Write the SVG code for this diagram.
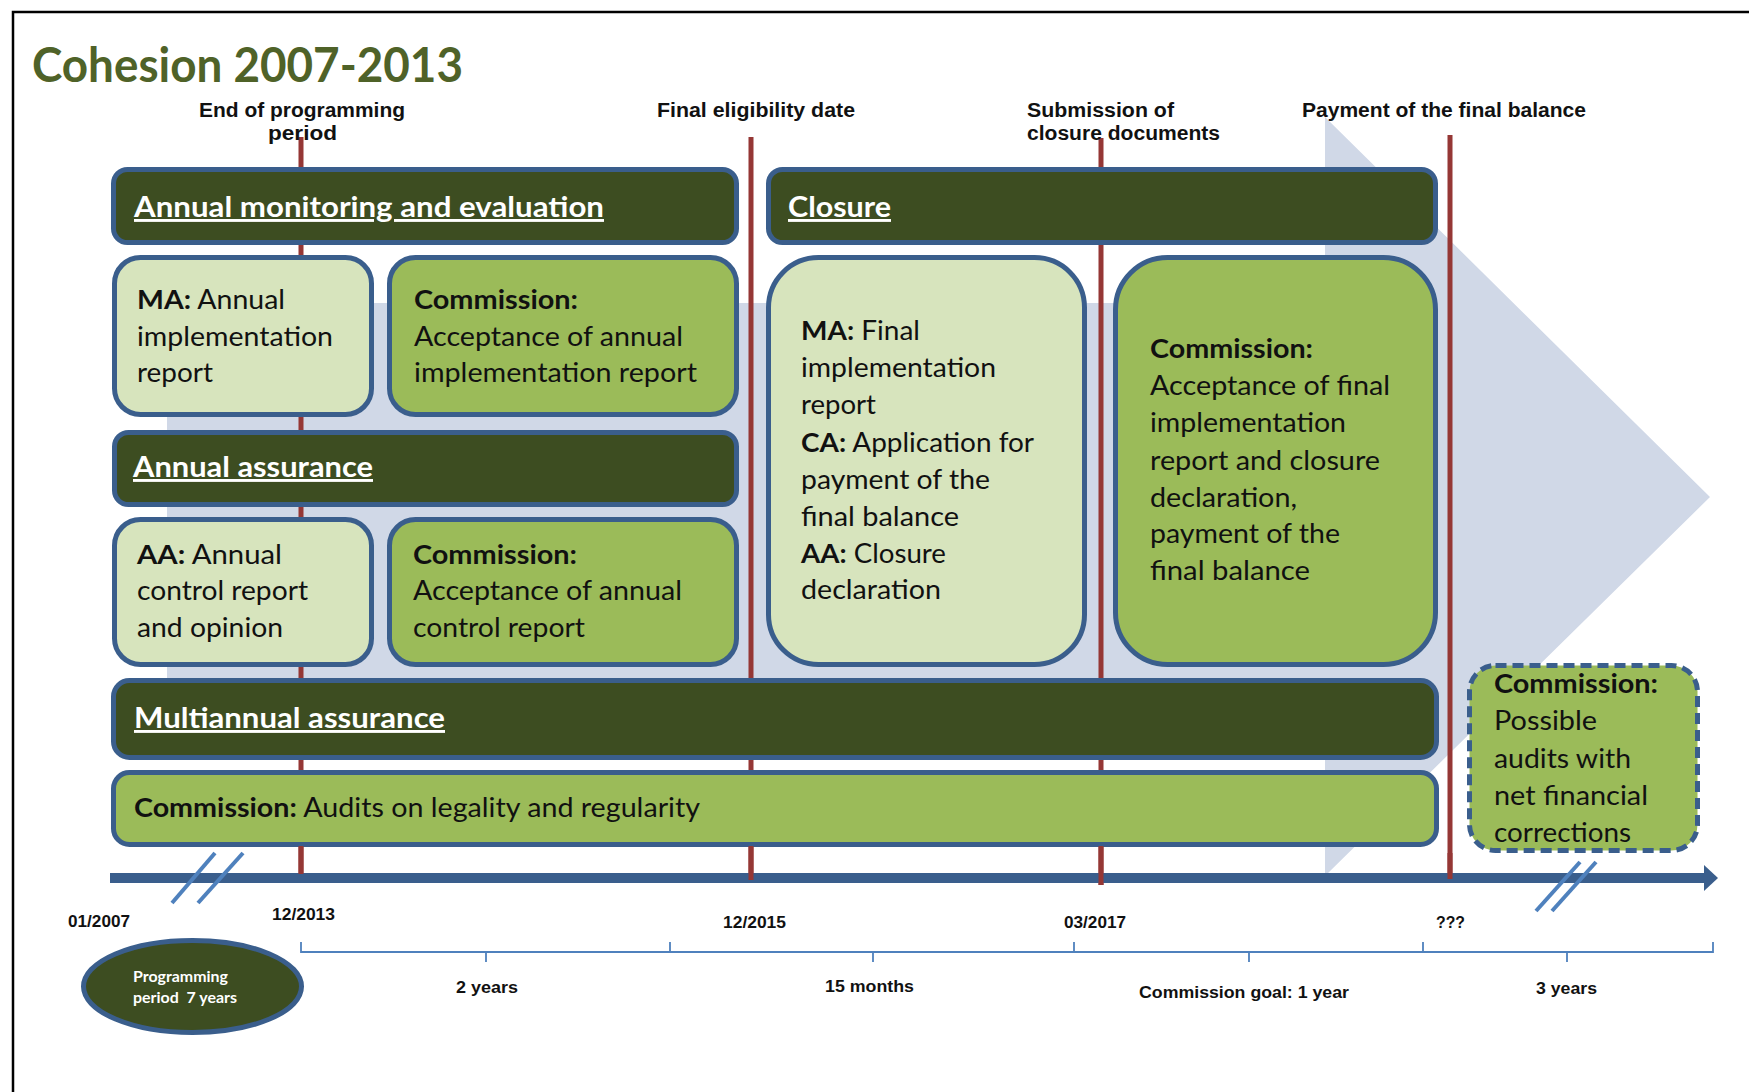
<svg xmlns="http://www.w3.org/2000/svg" width="1749" height="1092" viewBox="0 0 1749 1092">
<defs>
<style>
.frame{fill:none;stroke:#000;stroke-width:2.5}
.box{stroke:#3A5E8C;stroke-width:5}
.dark{fill:#3D4D21}
.light{fill:#D7E4BD}
.mid{fill:#9BBB59}
.dash{stroke-dasharray:11 6}
.hdr{font-family:Lato,"Open Sans",sans-serif;font-weight:bold;font-size:29px;fill:#fff;text-decoration:underline}
.t{font-family:Lato,"Open Sans",sans-serif;font-size:27px;fill:#111}
.b{font-weight:bold}
.lbl{font-family:"Liberation Sans",Arial,sans-serif;font-weight:bold;font-size:20px;fill:#111}
.date{font-family:"Liberation Sans",Arial,sans-serif;font-weight:bold;font-size:17px;fill:#111}
.ms{stroke:#953735;stroke-width:5}
.brk{stroke:#4F81BD;stroke-width:4;fill:none}
.scale{stroke:#4F81BD;stroke-width:1.8;fill:none}
</style>
<marker id="ah" viewBox="0 0 14 26" refX="0" refY="13" markerWidth="14" markerHeight="26" markerUnits="userSpaceOnUse" orient="auto">
<path d="M0,0 L14,13 L0,26 Z" fill="#3A5E8C"/>
</marker>
</defs>
<rect width="1749" height="1092" fill="#fff"/>
<path class="frame" d="M13,1092 L13,12 L1749,12"/>
<text x="32" y="82" font-family="Lato,'Open Sans',sans-serif" font-weight="bold" font-size="47" fill="#4F6228" textLength="431" lengthAdjust="spacingAndGlyphs">Cohesion 2007-2013</text>

<g id="background-arrow">
<polygon points="167,303 1325,303 1325,117 1710,497 1325,876 1325,691 167,691" fill="#D0D8E7"/>
</g>

<g id="milestones">
<line class="ms" x1="301" y1="137" x2="301" y2="874"/>
<line class="ms" x1="751" y1="137" x2="751" y2="880"/>
<line class="ms" x1="1101" y1="138" x2="1101" y2="885"/>
<line class="ms" x1="1450" y1="135" x2="1450" y2="879"/>
</g>

<g id="milestone-labels">
<text class="lbl" x="199" y="117" textLength="206" lengthAdjust="spacingAndGlyphs">End of programming</text>
<text class="lbl" x="268" y="140" textLength="69" lengthAdjust="spacingAndGlyphs">period</text>
<text class="lbl" x="657" y="117" textLength="198" lengthAdjust="spacingAndGlyphs">Final eligibility date</text>
<text class="lbl" x="1027" y="117" textLength="147" lengthAdjust="spacingAndGlyphs">Submission of</text>
<text class="lbl" x="1027" y="140" textLength="193" lengthAdjust="spacingAndGlyphs">closure documents</text>
<text class="lbl" x="1302" y="117" textLength="284" lengthAdjust="spacingAndGlyphs">Payment of the final balance</text>
</g>

<g id="hdr-annual-monitoring">
<rect class="box dark" x="113.5" y="169.5" width="623" height="73" rx="14"/>
<text class="hdr" x="134" y="217" textLength="470" lengthAdjust="spacingAndGlyphs">Annual monitoring and evaluation</text>
</g>
<g id="hdr-closure">
<rect class="box dark" x="768.5" y="169.5" width="667" height="73" rx="14"/>
<text class="hdr" x="788" y="217" textLength="103" lengthAdjust="spacingAndGlyphs">Closure</text>
</g>

<g id="ma-annual-report">
<rect class="box light" x="114.5" y="257.5" width="257" height="157" rx="26"/>
<text class="t" x="137" y="309" textLength="148" lengthAdjust="spacingAndGlyphs"><tspan class="b">MA:</tspan> Annual</text>
<text class="t" x="137" y="346" textLength="196" lengthAdjust="spacingAndGlyphs">implementation</text>
<text class="t" x="137" y="382" textLength="76" lengthAdjust="spacingAndGlyphs">report</text>
</g>
<g id="com-accept-annual-report">
<rect class="box mid" x="389.5" y="257.5" width="347" height="157" rx="26"/>
<text class="t b" x="414" y="309" textLength="164" lengthAdjust="spacingAndGlyphs">Commission:</text>
<text class="t" x="414" y="346" textLength="269" lengthAdjust="spacingAndGlyphs">Acceptance of annual</text>
<text class="t" x="414" y="382" textLength="283" lengthAdjust="spacingAndGlyphs">implementation report</text>
</g>

<g id="hdr-annual-assurance">
<rect class="box dark" x="114.5" y="432.5" width="622" height="72" rx="14"/>
<text class="hdr" x="133" y="477" textLength="240" lengthAdjust="spacingAndGlyphs">Annual assurance</text>
</g>

<g id="aa-annual-control">
<rect class="box light" x="114.5" y="519.5" width="257" height="145" rx="26"/>
<text class="t" x="137" y="564" textLength="145" lengthAdjust="spacingAndGlyphs"><tspan class="b">AA:</tspan> Annual</text>
<text class="t" x="137" y="600" textLength="171" lengthAdjust="spacingAndGlyphs">control report</text>
<text class="t" x="137" y="637" textLength="146" lengthAdjust="spacingAndGlyphs">and opinion</text>
</g>
<g id="com-accept-control-report">
<rect class="box mid" x="389.5" y="519.5" width="347" height="145" rx="26"/>
<text class="t b" x="413" y="564" textLength="164" lengthAdjust="spacingAndGlyphs">Commission:</text>
<text class="t" x="413" y="600" textLength="269" lengthAdjust="spacingAndGlyphs">Acceptance of annual</text>
<text class="t" x="413" y="637" textLength="172" lengthAdjust="spacingAndGlyphs">control report</text>
</g>

<g id="ma-final-report">
<rect class="box light" x="768.5" y="257.5" width="316" height="407" rx="50"/>
<text class="t" x="801" y="340" textLength="119" lengthAdjust="spacingAndGlyphs"><tspan class="b">MA:</tspan> Final</text>
<text class="t" x="801" y="377" textLength="195" lengthAdjust="spacingAndGlyphs">implementation</text>
<text class="t" x="801" y="414" textLength="75" lengthAdjust="spacingAndGlyphs">report</text>
<text class="t" x="801" y="452" textLength="233" lengthAdjust="spacingAndGlyphs"><tspan class="b">CA:</tspan> Application for</text>
<text class="t" x="801" y="489" textLength="189" lengthAdjust="spacingAndGlyphs">payment of the</text>
<text class="t" x="801" y="526" textLength="158" lengthAdjust="spacingAndGlyphs">final balance</text>
<text class="t" x="801" y="563" textLength="145" lengthAdjust="spacingAndGlyphs"><tspan class="b">AA:</tspan> Closure</text>
<text class="t" x="801" y="599" textLength="140" lengthAdjust="spacingAndGlyphs">declaration</text>
</g>
<g id="com-final-acceptance">
<rect class="box mid" x="1115.5" y="257.5" width="320" height="407" rx="52"/>
<text class="t b" x="1150" y="358" textLength="163" lengthAdjust="spacingAndGlyphs">Commission:</text>
<text class="t" x="1150" y="395" textLength="240" lengthAdjust="spacingAndGlyphs">Acceptance of final</text>
<text class="t" x="1150" y="432" textLength="196" lengthAdjust="spacingAndGlyphs">implementation</text>
<text class="t" x="1150" y="470" textLength="230" lengthAdjust="spacingAndGlyphs">report and closure</text>
<text class="t" x="1150" y="507" textLength="147" lengthAdjust="spacingAndGlyphs">declaration,</text>
<text class="t" x="1150" y="543" textLength="190" lengthAdjust="spacingAndGlyphs">payment of the</text>
<text class="t" x="1150" y="580" textLength="160" lengthAdjust="spacingAndGlyphs">final balance</text>
</g>

<g id="hdr-multiannual-assurance">
<rect class="box dark" x="113.5" y="680.5" width="1323" height="77" rx="16"/>
<text class="hdr" x="134" y="728" textLength="311" lengthAdjust="spacingAndGlyphs">Multiannual assurance</text>
</g>
<g id="com-audits">
<rect class="box mid" x="113.5" y="772.5" width="1323" height="72" rx="16"/>
<text class="t" x="134" y="817" textLength="566" lengthAdjust="spacingAndGlyphs"><tspan class="b">Commission:</tspan> Audits on legality and regularity</text>
</g>
<g id="com-possible-audits">
<rect class="box mid dash" x="1469.5" y="665.5" width="228" height="185" rx="26"/>
<text class="t b" x="1494" y="693" textLength="164" lengthAdjust="spacingAndGlyphs">Commission:</text>
<text class="t" x="1494" y="730" textLength="103" lengthAdjust="spacingAndGlyphs">Possible</text>
<text class="t" x="1494" y="768" textLength="137" lengthAdjust="spacingAndGlyphs">audits with</text>
<text class="t" x="1494" y="805" textLength="154" lengthAdjust="spacingAndGlyphs">net financial</text>
<text class="t" x="1494" y="842" textLength="137" lengthAdjust="spacingAndGlyphs">corrections</text>
</g>

<g id="connectors">
<line x1="110" y1="878" x2="1704" y2="878" stroke="#3A5E8C" stroke-width="10" marker-end="url(#ah)"/>
<line class="brk" x1="215" y1="853" x2="172" y2="903"/>
<line class="brk" x1="243" y1="853" x2="198" y2="903"/>
<line class="brk" x1="1580" y1="862" x2="1536" y2="911"/>
<line class="brk" x1="1596" y1="862" x2="1552" y2="911"/>
<path class="scale" d="M301,942 L301,952 L1713,952 L1713,942 M670,942 L670,952 M1074,942 L1074,952 M1423,942 L1423,952 M486,952 L486,962 M873,952 L873,962 M1249,952 L1249,962 M1567,952 L1567,962"/>
</g>

<g id="ms-redraw">
<line class="ms" x1="301" y1="846" x2="301" y2="874"/>
<line class="ms" x1="751" y1="846" x2="751" y2="880"/>
<line class="ms" x1="1101" y1="846" x2="1101" y2="885"/>
<line class="ms" x1="1450" y1="853" x2="1450" y2="879"/>
</g>

<g id="dates">
<text class="date" x="68" y="927" textLength="62" lengthAdjust="spacingAndGlyphs">01/2007</text>
<text class="date" x="272" y="920" textLength="63" lengthAdjust="spacingAndGlyphs">12/2013</text>
<text class="date" x="723" y="928" textLength="63" lengthAdjust="spacingAndGlyphs">12/2015</text>
<text class="date" x="1064" y="928" textLength="62" lengthAdjust="spacingAndGlyphs">03/2017</text>
<text class="date" x="1436" y="928" textLength="29" lengthAdjust="spacingAndGlyphs">???</text>
<text class="date" x="456" y="993" textLength="62" lengthAdjust="spacingAndGlyphs">2 years</text>
<text class="date" x="825" y="992" textLength="89" lengthAdjust="spacingAndGlyphs">15 months</text>
<text class="date" x="1139" y="998" textLength="210" lengthAdjust="spacingAndGlyphs">Commission goal: 1 year</text>
<text class="date" x="1536" y="994" textLength="61" lengthAdjust="spacingAndGlyphs">3 years</text>
</g>

<g id="programming-period">
<ellipse class="box dark" cx="192.5" cy="986.5" rx="109" ry="46"/>
<text x="133" y="982" font-family="Lato,'Open Sans',sans-serif" font-weight="bold" font-size="15" fill="#fff" textLength="95" lengthAdjust="spacingAndGlyphs">Programming</text>
<text x="133" y="1003" font-family="Lato,'Open Sans',sans-serif" font-weight="bold" font-size="15" fill="#fff" textLength="104" lengthAdjust="spacingAndGlyphs">period&#160; 7 years</text>
</g>
</svg>
